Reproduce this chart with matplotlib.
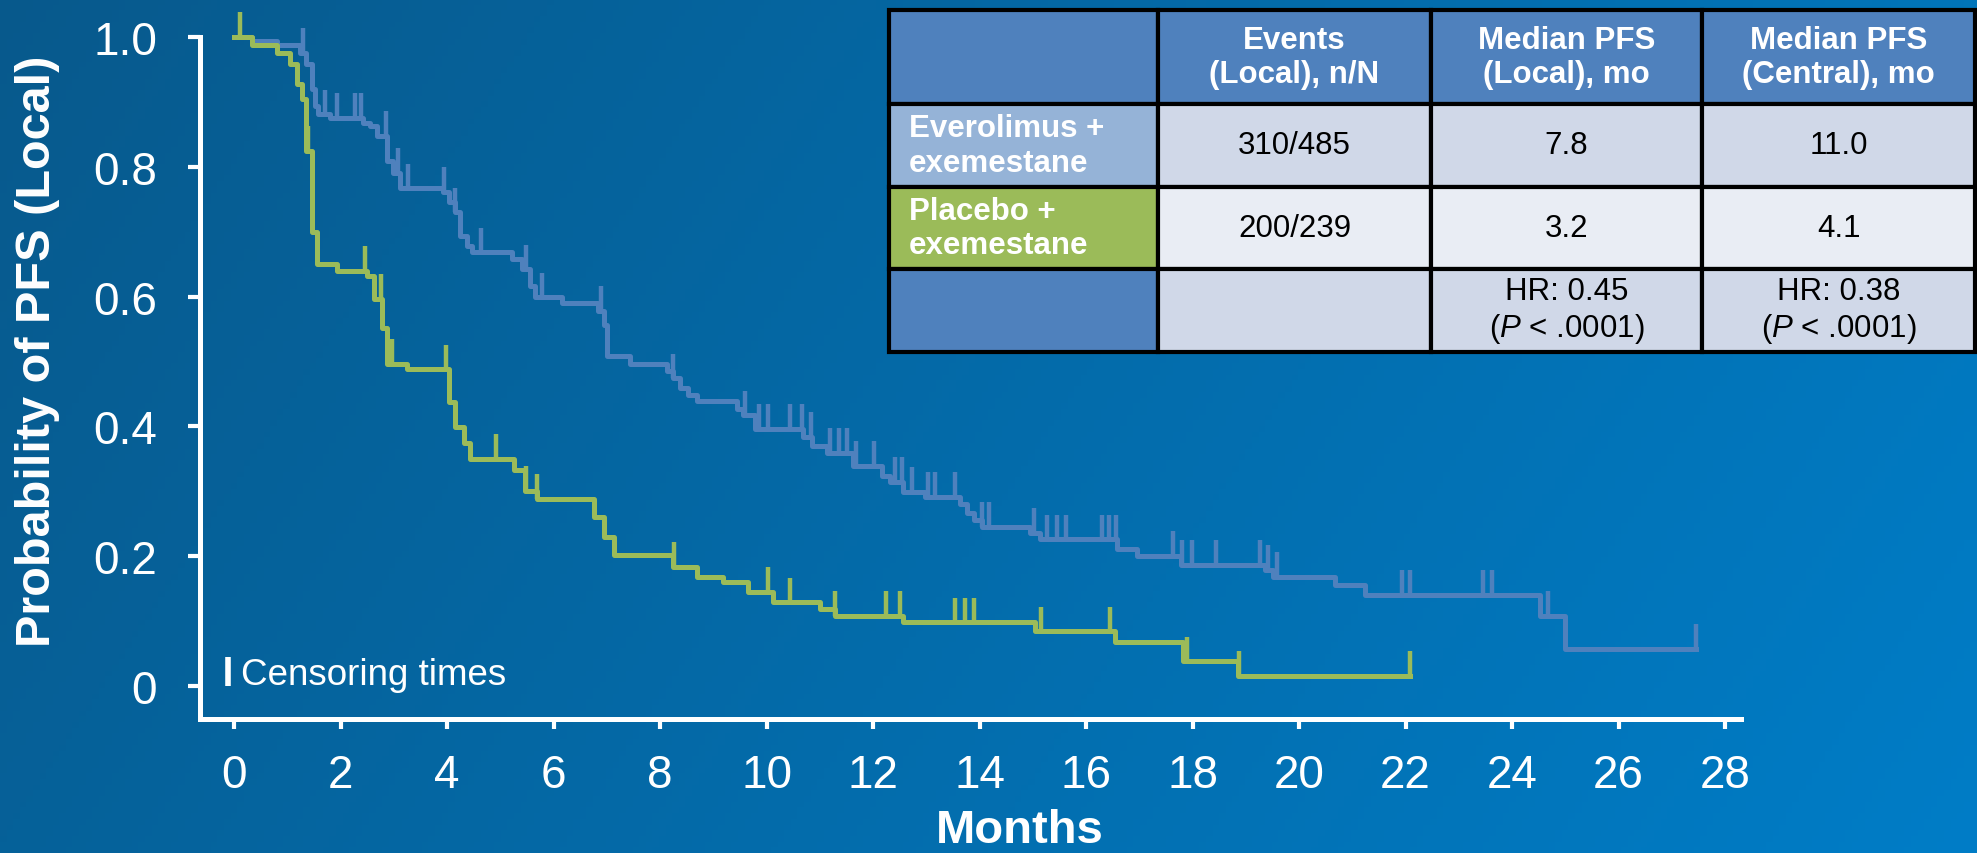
import numpy as np
import matplotlib
matplotlib.use("Agg")
import matplotlib.pyplot as plt

plt.rcParams['font.family'] = ['Liberation Sans', 'DejaVu Sans']
plt.rcParams['mathtext.fontset'] = 'custom'
plt.rcParams['mathtext.it'] = 'Liberation Sans:italic'
plt.rcParams['mathtext.rm'] = 'Liberation Sans'

# Everolimus + exemestane: KM step starts (months) and survival after each step
evero_t = [0, 0.33, 0.80, 1.24, 1.36, 1.46, 1.52, 1.58, 1.80, 2.43, 2.55, 2.68, 2.87, 2.99,
           3.12, 3.93, 4.03, 4.15, 4.24, 4.37, 4.46, 5.21, 5.40, 5.56, 5.65, 6.15, 6.84, 6.94,
           7.01, 7.44, 8.13, 8.24, 8.38, 8.53, 8.69, 9.44, 9.56, 9.78, 10.69, 10.85, 11.13,
           11.63, 12.16, 12.32, 12.57, 12.98, 13.63, 13.76, 13.89, 14.04, 14.95, 15.14, 16.59,
           16.95, 17.78, 19.36, 19.52, 20.68, 21.24, 24.53, 25.00]
evero_s = [1.0, 0.994, 0.987, 0.976, 0.958, 0.920, 0.894, 0.881, 0.875, 0.868, 0.863, 0.848,
           0.809, 0.791, 0.767, 0.761, 0.745, 0.730, 0.694, 0.678, 0.668, 0.658, 0.642, 0.617,
           0.599, 0.590, 0.578, 0.556, 0.508, 0.496, 0.486, 0.474, 0.459, 0.448, 0.439, 0.427,
           0.417, 0.396, 0.384, 0.370, 0.359, 0.339, 0.324, 0.314, 0.299, 0.291, 0.280, 0.267,
           0.255, 0.245, 0.236, 0.226, 0.211, 0.200, 0.187, 0.179, 0.168, 0.156, 0.140, 0.108,
           0.057]
evero_end = 27.46
evero_cens = [1.30, 1.71, 1.93, 2.27, 2.38, 2.85, 3.07, 3.26, 3.94, 4.15, 4.63, 5.48, 5.78,
              6.90, 8.25, 9.59, 9.85, 10.02, 10.44, 10.67, 10.83, 11.19, 11.36, 11.51, 11.68,
              12.01, 12.41, 12.54, 12.74, 13.03, 13.16, 13.54, 14.04, 14.18, 15.02, 15.26,
              15.46, 15.63, 16.30, 16.43, 16.56, 17.64, 17.80, 17.99, 18.44, 19.27, 19.41,
              19.59, 21.93, 22.09, 23.46, 23.62, 24.68, 27.46]

# Placebo + exemestane
placebo_t = [0, 0.33, 0.80, 1.05, 1.18, 1.27, 1.36, 1.46, 1.55, 1.93, 2.49, 2.62, 2.77, 2.87,
             3.24, 4.03, 4.15, 4.31, 4.43, 5.25, 5.46, 5.68, 6.75, 6.94, 7.13, 8.25, 8.69,
             9.19, 9.66, 10.13, 11.00, 11.29, 12.57, 15.04, 16.54, 17.83, 18.86]
placebo_s = [1.0, 0.988, 0.976, 0.958, 0.927, 0.904, 0.825, 0.699, 0.650, 0.640, 0.632, 0.596,
             0.552, 0.496, 0.488, 0.437, 0.399, 0.375, 0.350, 0.333, 0.301, 0.288, 0.261,
             0.230, 0.202, 0.184, 0.168, 0.160, 0.145, 0.129, 0.119, 0.108, 0.098, 0.084,
             0.067, 0.038, 0.016]
placebo_end = 22.08
placebo_cens = [0.11, 1.38, 2.46, 2.75, 2.96, 3.98, 4.91, 5.48, 5.68, 8.26, 10.02, 10.44,
                11.29, 12.24, 12.50, 13.54, 13.73, 13.89, 15.15, 16.45, 17.89, 18.87, 22.08]

month_ticks = np.arange(0, 29, 2)
prob_ticks = [0, 0.2, 0.4, 0.6, 0.8, 1.0]
prob_labels = ['0', '0.2', '0.4', '0.6', '0.8', '1.0']

col_labels = ['', 'Events\n(Local), n/N', 'Median PFS\n(Local), mo', 'Median PFS\n(Central), mo']
arm_labels = ['Everolimus +\nexemestane', 'Placebo +\nexemestane', '']
events = ['310/485', '200/239', '']
median_local = ['7.8', '3.2', 'HR: 0.45\n($P$ < .0001)']
median_central = ['11.0', '4.1', 'HR: 0.38\n($P$ < .0001)']

BLUE = '#4F81BD'
GREEN = '#9BBB59'
W, H = 1977, 854

fig = plt.figure(figsize=(W / 100, H / 100), dpi=100)

# backdrop gradient
bg = fig.add_axes([0, 0, 1, 1], zorder=-5)
gx, gy = np.meshgrid(np.linspace(0, 1, 300), np.linspace(0, 1, 150))
g = 0.78 * gx + 0.22 * gy
c0 = np.array([0.03, 0.35, 0.55])
c1 = np.array([0.00, 0.49, 0.78])
bg.imshow(c0 + g[..., None] * (c1 - c0), aspect='auto', extent=[0, 1, 0, 1], origin='upper')
bg.axis('off')

ax = fig.add_axes([200 / W, 1 - 720 / H, 1541 / W, 682 / H])
ax.patch.set_alpha(0)


def km(ax, t, s, end, cens, color, z):
    xs = np.r_[t, end]
    ys = np.r_[s, s[-1]]
    ax.step(xs, ys, where='post', color=color, lw=3.6, zorder=z, clip_on=False)
    idx = np.searchsorted(t, cens, side='right') - 1
    lev = np.asarray(s)[idx]
    ax.vlines(cens, lev, lev + 0.038, color=color, lw=3.2, zorder=z, clip_on=False)


km(ax, evero_t, evero_s, evero_end, evero_cens, BLUE, 3)
km(ax, placebo_t, placebo_s, placebo_end, placebo_cens, GREEN, 4)

ax.set_xlim(-0.64, 28.3)
ax.set_ylim(-0.051, 1.0)
ax.set_xticks(month_ticks)
ax.set_yticks(prob_ticks)
ax.set_yticklabels(prob_labels)
for sp in ['top', 'right']:
    ax.spines[sp].set_visible(False)
for sp in ['left', 'bottom']:
    ax.spines[sp].set_color('white')
    ax.spines[sp].set_linewidth(3.6)
ax.tick_params(colors='white', width=3, labelsize=33)
ax.tick_params(axis='x', length=7.5, pad=17)
ax.tick_params(axis='y', length=9, pad=22)

fig.text(38 / W, 1 - 351 / H, 'Probability of PFS (Local)', rotation=90, ha='center',
         va='center', fontsize=35, fontweight='bold', color='white')
fig.text(1020 / W, 1 / H, 'Months', ha='center', va='bottom', fontsize=34,
         fontweight='bold', color='white')

# censoring key
ax.vlines(-0.11, 0, 0.045, color='white', lw=4)
ax.text(0.13, 0.003, 'Censoring times', color='white', fontsize=26.5, va='baseline')

# summary table
tax = fig.add_axes([889 / W, 1 - 353 / H, 1086 / W, 342 / H])
tax.axis('off')
cells = [col_labels] + [[arm_labels[i], events[i], median_local[i], median_central[i]]
                        for i in range(3)]
body = ['#D0D8E8', '#E9EDF4', '#D0D8E8']
first = ['#95B3D7', GREEN, BLUE]
colours = [[BLUE] * 4] + [[first[i]] + [body[i]] * 3 for i in range(3)]
tab = tax.table(cellText=cells, cellColours=colours, cellLoc='center',
                colWidths=[269, 273, 271, 273], bbox=[0, 0, 1, 1])
tab.auto_set_font_size(False)
tab.set_fontsize(22.5)
row_h = [94, 83, 82, 83]
for (r, c), cell in tab.get_celld().items():
    cell.set_edgecolor('black')
    cell.set_linewidth(3)
    cell.set_height(row_h[r])
    txt = cell.get_text()
    if r == 0:
        txt.set_color('white')
        txt.set_fontweight('bold')
    elif c == 0:
        txt.set_color('white')
        txt.set_fontweight('bold')
        cell._loc = 'left'
        cell.PAD = 0.075
        txt.set_ha('left')
    else:
        txt.set_color('black')

fig.savefig('out.png', dpi=100)
